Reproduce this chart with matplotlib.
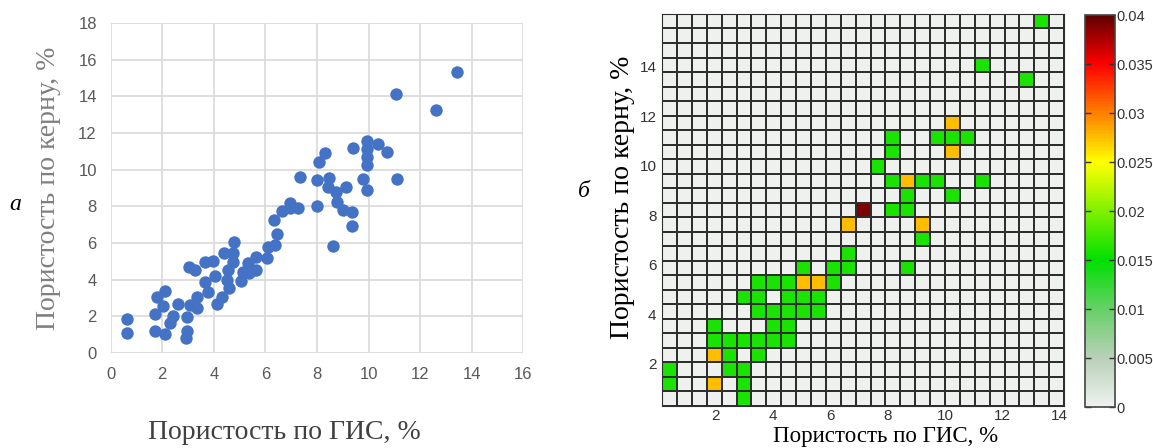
import numpy as np
import matplotlib
matplotlib.use('Agg')
import matplotlib.pyplot as plt
from matplotlib.colors import LinearSegmentedColormap, Normalize

# а) пористость по ГИС / по керну (точки)
gis = [0.62, 0.62, 1.72, 1.72, 1.78, 2.10, 2.04, 2.10, 2.30, 2.40,
       2.62, 2.95, 2.95, 2.92, 3.04, 3.27, 3.07, 3.36, 3.36, 3.66,
       3.98, 3.66, 3.79, 4.04, 4.11, 4.30, 4.41, 4.78, 4.73, 4.75,
       4.56, 4.50, 4.60, 5.04, 5.14, 5.34, 5.37, 5.63, 5.63, 6.05,
       6.11, 6.37, 6.44, 6.33, 6.63, 6.95, 6.95, 7.27, 7.34, 7.99,
       8.01, 8.09, 8.31, 8.48, 8.44, 8.74, 8.79, 9.02, 9.35, 9.12,
       9.35, 8.61, 9.41, 9.93, 9.93, 9.93, 9.95, 10.35, 10.70, 9.77,
       9.95, 11.09, 11.07, 12.62, 13.43]
kern = [1.84, 1.06, 2.11, 1.20, 3.03, 3.37, 2.55, 1.00, 1.64, 2.00,
        2.64, 1.93, 1.20, 0.79, 4.70, 4.52, 2.60, 3.03, 2.43, 4.94,
        5.01, 3.88, 3.33, 4.21, 2.64, 3.06, 5.47, 6.03, 5.47, 4.97,
        4.52, 3.97, 3.52, 3.92, 4.43, 4.89, 4.34, 4.52, 5.25, 5.16,
        5.79, 5.89, 6.49, 7.25, 7.76, 8.16, 7.90, 7.89, 9.62, 8.02,
        9.44, 10.44, 10.90, 9.56, 9.07, 8.80, 8.25, 7.80, 7.70, 9.07,
        6.94, 5.85, 11.17, 11.59, 11.11, 10.68, 10.26, 11.40, 10.98, 9.49,
        8.89, 9.48, 14.11, 13.27, 15.36]

# б) плотность распределения по ячейкам (столбец, строка, значение)
cell_col = [5, 0, 3, 5, 0, 4, 5, 3, 4, 6,
            3, 4, 5, 6, 7, 8, 3, 7, 8,
            6, 7, 8, 9, 10, 5, 6, 8, 9, 10,
            6, 7, 8, 9, 10, 11, 9, 11, 12, 12, 12,
            13, 15, 16, 17, 17, 16, 16, 19,
            15, 16, 17, 18, 21, 14, 15, 19, 15, 18, 19, 20,
            19, 24, 21, 25]
cell_row = [0, 1, 1, 1, 2, 2, 2, 3, 3, 3,
            4, 4, 4, 4, 4, 4, 5, 5, 5,
            6, 6, 6, 6, 6, 7, 7, 7, 7, 7,
            8, 8, 8, 8, 8, 8, 9, 9, 9, 10, 12,
            13, 13, 13, 12, 11, 9, 14, 14,
            15, 15, 15, 15, 15, 16, 17, 17, 18, 18, 18, 18,
            19, 22, 23, 26]
cell_val = [0.016, 0.016, 0.0275, 0.016, 0.016, 0.016, 0.016, 0.0275, 0.016, 0.016,
            0.016, 0.016, 0.016, 0.016, 0.016, 0.016, 0.016, 0.016, 0.016,
            0.016, 0.016, 0.016, 0.016, 0.016, 0.016, 0.016, 0.016, 0.016, 0.016,
            0.016, 0.016, 0.016, 0.0275, 0.0275, 0.016, 0.016, 0.016, 0.016, 0.016, 0.0275,
            0.039, 0.016, 0.016, 0.0275, 0.016, 0.016, 0.016, 0.016,
            0.016, 0.0275, 0.016, 0.016, 0.016, 0.016, 0.016, 0.0275, 0.016, 0.016, 0.016, 0.016,
            0.0275, 0.016, 0.016, 0.016]
n_bins = 27
cbar_ticks = [0, 0.005, 0.01, 0.015, 0.02, 0.025, 0.03, 0.035, 0.04]

fig = plt.figure(figsize=(11.53, 4.48), dpi=100)

# --- а ---
ax1 = fig.add_axes([0.096, 0.2127, 0.3579, 0.7353])
ax1.scatter(gis, kern, s=80, color='#4472C4', zorder=3, linewidths=0)
ax1.set_xlim(0, 16)
ax1.set_ylim(0, 18)
ax1.set_xticks(range(0, 17, 2))
ax1.set_yticks(range(0, 19, 2))
ax1.grid(True, color='#D9D9D9', linewidth=1.2)
ax1.set_axisbelow(True)
for sp in ax1.spines.values():
    sp.set_visible(False)
ax1.tick_params(length=0, labelsize=12, labelcolor='#595959', pad=10)
for lab in ax1.get_xticklabels() + ax1.get_yticklabels():
    lab.set_fontfamily('Liberation Sans')
fig.text(0.042, 0.58, 'Пористость по керну, %', rotation=90, ha='center', va='center',
         fontsize=20, color='#7F7F7F', family='Liberation Serif')
fig.text(0.247, 0.035, 'Пористость по ГИС, %', ha='center', va='center',
         fontsize=20, color='#404040', family='Liberation Serif')
fig.text(0.013, 0.543, 'а', ha='center', va='center', fontsize=17, style='italic',
         family='Liberation Serif')

# --- б ---
cmap = LinearSegmentedColormap.from_list('dens', [
    (0.0, '#EEF1EE'), (0.125, '#B8D0B8'), (0.25, '#66D066'), (0.375, '#00E000'),
    (0.5, '#80F000'), (0.625, '#FFFF00'), (0.75, '#FF8000'), (0.875, '#FF0000'),
    (1.0, '#600000')])
norm = Normalize(0, 0.04)

dens = np.zeros((n_bins, n_bins))
for c, r, v in zip(cell_col, cell_row, cell_val):
    dens[r, c] = v
xe = np.linspace(0.15, 14.15, n_bins + 1)
ye = np.linspace(0.3, 16.14, n_bins + 1)

ax2 = fig.add_axes([0.5742, 0.0938, 0.3487, 0.875])
ax2.pcolormesh(xe, ye, dens, cmap=cmap, norm=norm, edgecolors='#2E2E2E', linewidth=1.1)
ax2.set_xlim(xe[0], xe[-1])
ax2.set_ylim(ye[0], ye[-1])
ax2.set_xticks(range(2, 15, 2))
ax2.set_yticks(range(2, 15, 2))
ax2.tick_params(length=0, labelsize=11, labelcolor='#333333', pad=4)
ax2.tick_params(axis='x', pad=2)
for lab in ax2.get_xticklabels() + ax2.get_yticklabels():
    lab.set_fontfamily('Liberation Sans')
for sp in ax2.spines.values():
    sp.set_color('#2E2E2E')
fig.text(0.54, 0.56, 'Пористость по керну, %', rotation=90, ha='center', va='center',
         fontsize=20, color='black', family='Liberation Serif')
fig.text(0.768, 0.026, 'Пористость по ГИС, %', ha='center', va='center',
         fontsize=16.5, color='black', family='Liberation Serif')
fig.text(0.506, 0.572, 'б', ha='center', va='center', fontsize=17, style='italic',
         family='Liberation Serif')

cax = fig.add_axes([0.941, 0.0915, 0.026, 0.875])
sm = matplotlib.cm.ScalarMappable(norm=norm, cmap=cmap)
cb = fig.colorbar(sm, cax=cax, ticks=cbar_ticks)
cb.ax.set_yticklabels(['0', '0.005', '0.01', '0.015', '0.02', '0.025', '0.03', '0.035', '0.04'])
cb.ax.tick_params(direction='in', length=4, width=1, labelsize=10.5, pad=1, colors='#333333',
                  left=True)
for lab in cb.ax.get_yticklabels():
    lab.set_fontfamily('Liberation Sans')
cb.outline.set_edgecolor('#444444')
cb.outline.set_linewidth(1.2)

fig.savefig('out.png', dpi=100)
